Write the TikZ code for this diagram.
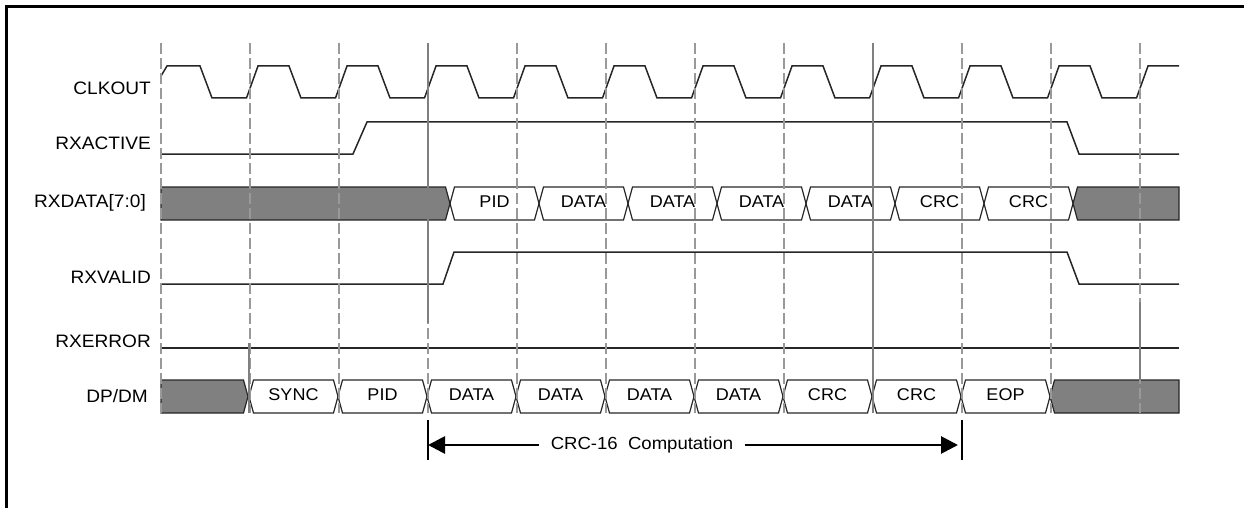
\documentclass[tikz,border=0pt]{standalone}
\usepackage{fontspec}
\setmainfont{Liberation Sans}[FakeStretch=1.06]
\usetikzlibrary{arrows.meta}
\begin{document}
\begin{tikzpicture}[x=1pt, y=-1pt,
    sig/.style={line width=1.5pt, black!85},
    gridline/.style={gray!80, line width=1.3pt, dash pattern=on 11pt off 4pt},
    marker/.style={gray, line width=2.4pt},
    bus/.style={line width=1.2pt, black!85},
    busfill/.style={bus, fill=gray},
    lbl/.style={anchor=east, inner sep=0pt, font=\fontsize{18}{18}\selectfont},
    txt/.style={inner sep=0pt, font=\fontsize{17}{17}\selectfont}]
    \useasboundingbox (0,0) rectangle (1244,508);
    \draw [line width=3pt] (6,7) rectangle (1262,526);
    % signal names
    \node [lbl] (clk) at (151,88) {CLKOUT};
    \node [lbl] (act) at (151,143) {RXACTIVE};
    \node [lbl] (dat) at (146,203) {RXDATA[7:0]};
    \node [lbl] (val) at (151,277) {RXVALID};
    \node [lbl] (err) at (151,341) {RXERROR};
    \node [lbl] (dpm) at (148,396) {DP/DM};
    % CLKOUT
    \draw [sig] (161,76) -- (167,66)
        \foreach \k in {0,...,10} {
            -- ({161+89*\k+39},66) -- ({161+89*\k+51},98)
            -- ({161+89*(\k+1)-3.5},98) -- ({161+89*(\k+1)+8},66)}
        -- (1179,66);
    % RXACTIVE, RXVALID, RXERROR
    \draw [sig] (161,154) -- (353,154) -- (367,122) -- (1067,122) -- (1079,154) -- (1179,154);
    \draw [sig] (161,284) -- (443,284) -- (454,252) -- (1067,252) -- (1079,284) -- (1179,284);
    \draw [sig] (161,348) -- (1179,348);
    % RXDATA[7:0]
    \draw [busfill] (161,187) -- (445.5,187) -- (450,203.5) -- (445.5,220) -- (161,220) -- cycle;
    \foreach \k/\name in {3/PID,4/DATA,5/DATA,6/DATA,7/DATA,8/CRC,9/CRC} {
        \pgfmathsetmacro\a{161+89*\k+22}
        \pgfmathsetmacro\b{\a+89}
        \draw [bus] (\a,203.5) -- (\a+4.5,187) -- (\b-4.5,187) -- (\b,203.5) -- (\b-4.5,220) -- (\a+4.5,220) -- cycle;
        \node [txt] (rxd\k) at ({(\a+\b)/2},202) {\name};
    }
    \draw [busfill] (1179,187) -- (1077.5,187) -- (1073,203.5) -- (1077.5,220) -- (1179,220) -- cycle;
    % DP/DM
    \draw [busfill] (161,380) -- (243.5,380) -- (248,396.5) -- (243.5,413) -- (161,413) -- cycle;
    \foreach \k/\name in {1/SYNC,2/PID,3/DATA,4/DATA,5/DATA,6/DATA,7/CRC,8/CRC,9/EOP} {
        \pgfmathsetmacro\a{160+89*\k}
        \pgfmathsetmacro\b{\a+89}
        \draw [bus] (\a,396.5) -- (\a+4.5,380) -- (\b-4.5,380) -- (\b,396.5) -- (\b-4.5,413) -- (\a+4.5,413) -- cycle;
        \node [txt] (dp\k) at ({(\a+\b)/2},394.5) {\name};
    }
    \draw [busfill] (1179,380) -- (1054.5,380) -- (1050,396.5) -- (1054.5,413) -- (1179,413) -- cycle;
    % clock grid
    \foreach \k in {0,...,11}
        \draw [gridline] ({161+89*\k},43) -- ({161+89*\k},413);
    \draw [marker] (428,43) -- (428,323);
    \draw [marker] (873,43) -- (873,413);
    \draw [marker, line width=1.5pt] (249,343) -- (249,413);
    \draw [marker] (1140,302) -- (1140,380);
    % CRC-16 span
    \coordinate (crcstart) at (428,445);
    \coordinate (crcend) at (962,445);
    \draw [line width=1.5pt] (428,420) -- (428,460);
    \draw [line width=1.5pt] (962,420) -- (962,460);
    \node [txt, font=\fontsize{17.5}{17.5}\selectfont, inner xsep=12pt] (crc) at (642,445) {CRC-16\ \ Computation};
    \draw [line width=2.8pt, -{Triangle[length=17pt,width=17pt]}] (crc.west) -- (crcstart);
    \draw [line width=2.8pt, -{Triangle[length=17pt,width=17pt]}, shorten >=4pt] (crc.east) -- (crcend);
\end{tikzpicture}
\end{document}
